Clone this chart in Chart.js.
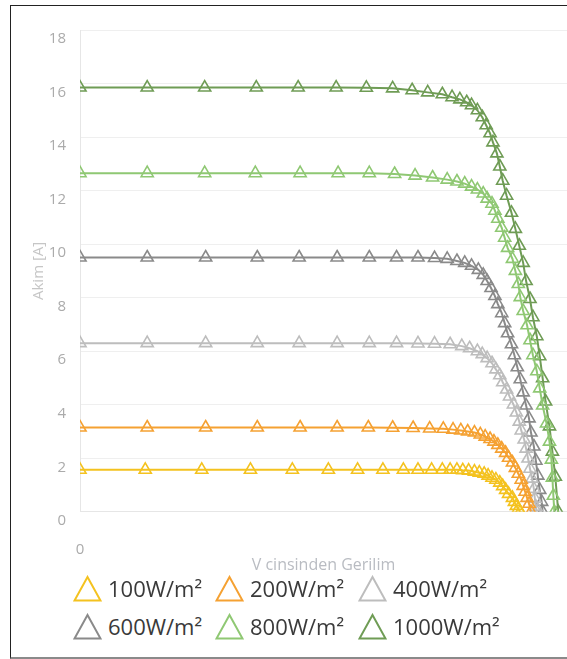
<!DOCTYPE html>
<html>
<head>
<meta charset="utf-8">
<script src="https://cdn.jsdelivr.net/npm/chart.js@4.4.0/dist/chart.umd.min.js"></script>
<style>
html, body { margin: 0; padding: 0; background: #fff; overflow: hidden; }
#frame { position: absolute; left: 10px; top: 5px; width: 600px; height: 654px; box-sizing: border-box;
  border-top: 1px solid #222; border-left: 1px solid #222; border-bottom: 2px solid #8a8a8a; }
#box { position: absolute; left: 0; top: 0; width: 556px; height: 572px; }
.item { position: absolute; height: 30px; display: flex; align-items: center; white-space: nowrap;
  font-family: 'Open Sans', sans-serif; font-size: 22px; color: #3a3a3a; }
.item svg { margin-right: 6px; }
</style>
</head>
<body>
<div id="frame">
  <div id="box"><canvas id="myChart"></canvas></div>
  <div id="legend"></div>
</div>
<script>
// irradiance labels
var labels = ['100W/m²', '200W/m²', '400W/m²', '600W/m²', '800W/m²', '1000W/m²'];
var colors = ['#f4c21f', '#f5a132', '#bdbdbd', '#8a8a8a', '#8fc873', '#6f9c55'];

// voltage (V) and current (A)
var v100 = [0, 6.7, 12.5, 17.5, 21.8, 25.5, 28.5, 31.1, 33.2, 34.7, 36.1, 37.2, 38.0, 38.7, 39.3, 39.9, 40.5, 41.0, 41.5, 41.9, 42.3, 42.7, 43.1, 43.4, 43.7, 44.0, 44.4, 44.6, 44.8, 45.0, 45.2];
var i100 = [1.57, 1.57, 1.57, 1.57, 1.57, 1.57, 1.57, 1.57, 1.57, 1.57, 1.57, 1.57, 1.57, 1.57, 1.55, 1.54, 1.5, 1.46, 1.42, 1.35, 1.27, 1.2, 1.09, 0.96, 0.82, 0.67, 0.52, 0.37, 0.22, 0.11, 0];

var v200 = [0, 6.9, 12.9, 18.2, 22.6, 26.4, 29.6, 32.1, 34.2, 35.9, 37.3, 38.3, 39.1, 39.8, 40.5, 41.1, 41.6, 42.1, 42.5, 42.9, 43.3, 43.7, 44.0, 44.4, 44.7, 45.0, 45.3, 45.5, 45.7, 45.9, 46.1, 46.3];
var i200 = [3.15, 3.15, 3.15, 3.15, 3.15, 3.15, 3.15, 3.14, 3.13, 3.11, 3.1, 3.07, 3.04, 3.0, 2.96, 2.89, 2.81, 2.72, 2.62, 2.5, 2.36, 2.2, 2.02, 1.84, 1.64, 1.42, 1.2, 0.97, 0.75, 0.52, 0.3, 0];

var v400 = [0, 6.9, 12.9, 18.2, 22.5, 26.4, 29.7, 32.5, 34.7, 36.4, 38.0, 39.2, 40.0, 40.8, 41.3, 41.8, 42.3, 42.7, 43.1, 43.4, 43.8, 44.1, 44.5, 44.8, 45.1, 45.3, 45.6, 45.8, 46.0, 46.2, 46.4, 46.6, 46.7, 46.8, 46.9];
var i400 = [6.3, 6.3, 6.3, 6.3, 6.3, 6.3, 6.3, 6.3, 6.29, 6.28, 6.26, 6.19, 6.11, 6.0, 5.89, 5.74, 5.55, 5.32, 5.1, 4.84, 4.57, 4.31, 4.01, 3.71, 3.37, 3.04, 2.7, 2.36, 1.99, 1.61, 1.24, 0.86, 0.49, 0.19, 0];

var v600 = [0, 6.9, 12.9, 18.2, 22.5, 26.4, 29.7, 32.5, 34.7, 36.4, 37.7, 38.7, 39.5, 40.2, 40.9, 41.4, 41.8, 42.2, 42.6, 42.9, 43.3, 43.6, 43.9, 44.3, 44.6, 44.9, 45.2, 45.5, 45.8, 46.1, 46.3, 46.6, 46.8, 47.0, 47.2, 47.4, 47.5];
var i600 = [9.5, 9.5, 9.5, 9.5, 9.5, 9.5, 9.5, 9.5, 9.5, 9.48, 9.45, 9.37, 9.3, 9.19, 9.04, 8.85, 8.62, 8.36, 8.06, 7.76, 7.42, 7.05, 6.67, 6.26, 5.85, 5.4, 4.95, 4.46, 3.97, 3.49, 2.96, 2.44, 1.91, 1.35, 0.82, 0.37, 0];

var v800 = [0, 6.9, 12.8, 18.0, 22.6, 26.5, 29.7, 32.3, 34.4, 36.2, 37.7, 38.7, 39.5, 40.2, 40.8, 41.4, 41.8, 42.3, 42.6, 42.9, 43.3, 43.6, 43.9, 44.4, 44.7, 45.0, 45.2, 45.5, 45.9, 46.2, 46.5, 46.9, 47.2, 47.5, 47.9, 48.2, 48.4, 48.5, 48.6, 48.7];
var i800 = [12.65, 12.65, 12.65, 12.65, 12.65, 12.65, 12.65, 12.62, 12.56, 12.49, 12.41, 12.34, 12.26, 12.15, 12.04, 11.89, 11.7, 11.51, 11.25, 10.95, 10.61, 10.24, 9.86, 9.45, 9.0, 8.51, 8.02, 7.5, 6.97, 6.41, 5.85, 5.25, 4.61, 3.97, 3.3, 2.62, 1.95, 1.27, 0.6, 0];

var v1000 = [0, 6.9, 12.8, 18.1, 22.4, 26.3, 29.4, 32.1, 34.1, 35.7, 37.2, 38.2, 39.0, 39.7, 40.2, 40.8, 41.3, 41.7, 42.1, 42.4, 42.8, 43.1, 43.4, 43.8, 44.3, 44.7, 45.1, 45.5, 45.8, 46.2, 46.5, 46.9, 47.2, 47.5, 47.8, 48.2, 48.5, 48.8, 49.1];
var i1000 = [15.85, 15.85, 15.85, 15.85, 15.85, 15.85, 15.84, 15.82, 15.75, 15.67, 15.6, 15.49, 15.41, 15.3, 15.19, 15.0, 14.74, 14.44, 14.14, 13.8, 13.39, 12.9, 12.37, 11.81, 11.17, 10.57, 9.94, 9.3, 8.62, 7.95, 7.27, 6.56, 5.81, 4.99, 4.12, 3.19, 2.25, 1.31, 0];

var volts = [v100, v200, v400, v600, v800, v1000];
var amps = [i100, i200, i400, i600, i800, i1000];

var tickFont = { family: 'Open Sans', size: 15 };

function makeSeries(k) {
    var pts = [];
    for (var i = 0; i < volts[k].length; i++) {
        pts.push({ x: volts[k][i], y: amps[k][i] });
    }
    return {
        label: labels[k],
        data: pts,
        borderColor: colors[k],
        borderWidth: 2,
        pointStyle: 'triangle',
        pointRadius: 7,
        pointBorderWidth: 1.6,
        pointBorderColor: colors[k],
        pointBackgroundColor: 'rgba(255,255,255,0)',
        tension: 0
    };
}

var datasets = [];
for (var k = 0; k < labels.length; k++) datasets.push(makeSeries(k));

var ctx = document.getElementById('myChart').getContext('2d');
var myChart = new Chart(ctx, {
    type: 'line',
    data: { datasets: datasets },
    options: {
        animation: false,
        responsive: true,
        maintainAspectRatio: false,
        layout: { autoPadding: false, padding: { left: 15, top: 24, right: 0, bottom: 3 } },
        plugins: {
            legend: { display: false },
            tooltip: { enabled: false }
        },
        scales: {
            x: {
                type: 'linear',
                min: 0,
                max: 50,
                grid: { display: false },
                border: { display: true, color: '#e6e6e6' },
                afterBuildTicks: function (axis) { axis.ticks = [{ value: 0 }]; },
                ticks: { padding: 21, color: '#ababab', font: tickFont },
                title: {
                    display: true,
                    text: 'V cinsinden Gerilim',
                    color: '#b9bcc2',
                    font: { family: 'Open Sans', size: 16 },
                    padding: { top: -24, bottom: 0 }
                }
            },
            y: {
                min: 0,
                max: 18,
                grid: { color: '#efefef', drawTicks: false },
                border: { display: true, color: '#e6e6e6' },
                ticks: { stepSize: 2, padding: 14, labelOffset: 9, color: '#ababab', font: tickFont },
                title: {
                    display: true,
                    text: 'Akim [A]',
                    color: '#c6c6c6',
                    font: { family: 'Open Sans', size: 15 }
                },
                afterFit: function (axis) { axis.width = 54; }
            }
        }
    }
});

// legend: 3 per row like the original
var legendPos = [[62, 567], [204, 567], [347, 567], [62, 605], [204, 605], [347, 605]];
var legendBox = document.getElementById('legend');
myChart.data.datasets.forEach(function (ds, n) {
    var div = document.createElement('div');
    div.className = 'item';
    div.style.left = legendPos[n][0] + 'px';
    div.style.top = legendPos[n][1] + 'px';
    div.innerHTML = '<svg width="29" height="27"><polygon points="14.5,2 27.5,25.5 1.5,25.5" fill="none" stroke="' +
        ds.borderColor + '" stroke-width="2"/></svg><span>' + ds.label + '</span>';
    legendBox.appendChild(div);
});
</script>
</body>
</html>
